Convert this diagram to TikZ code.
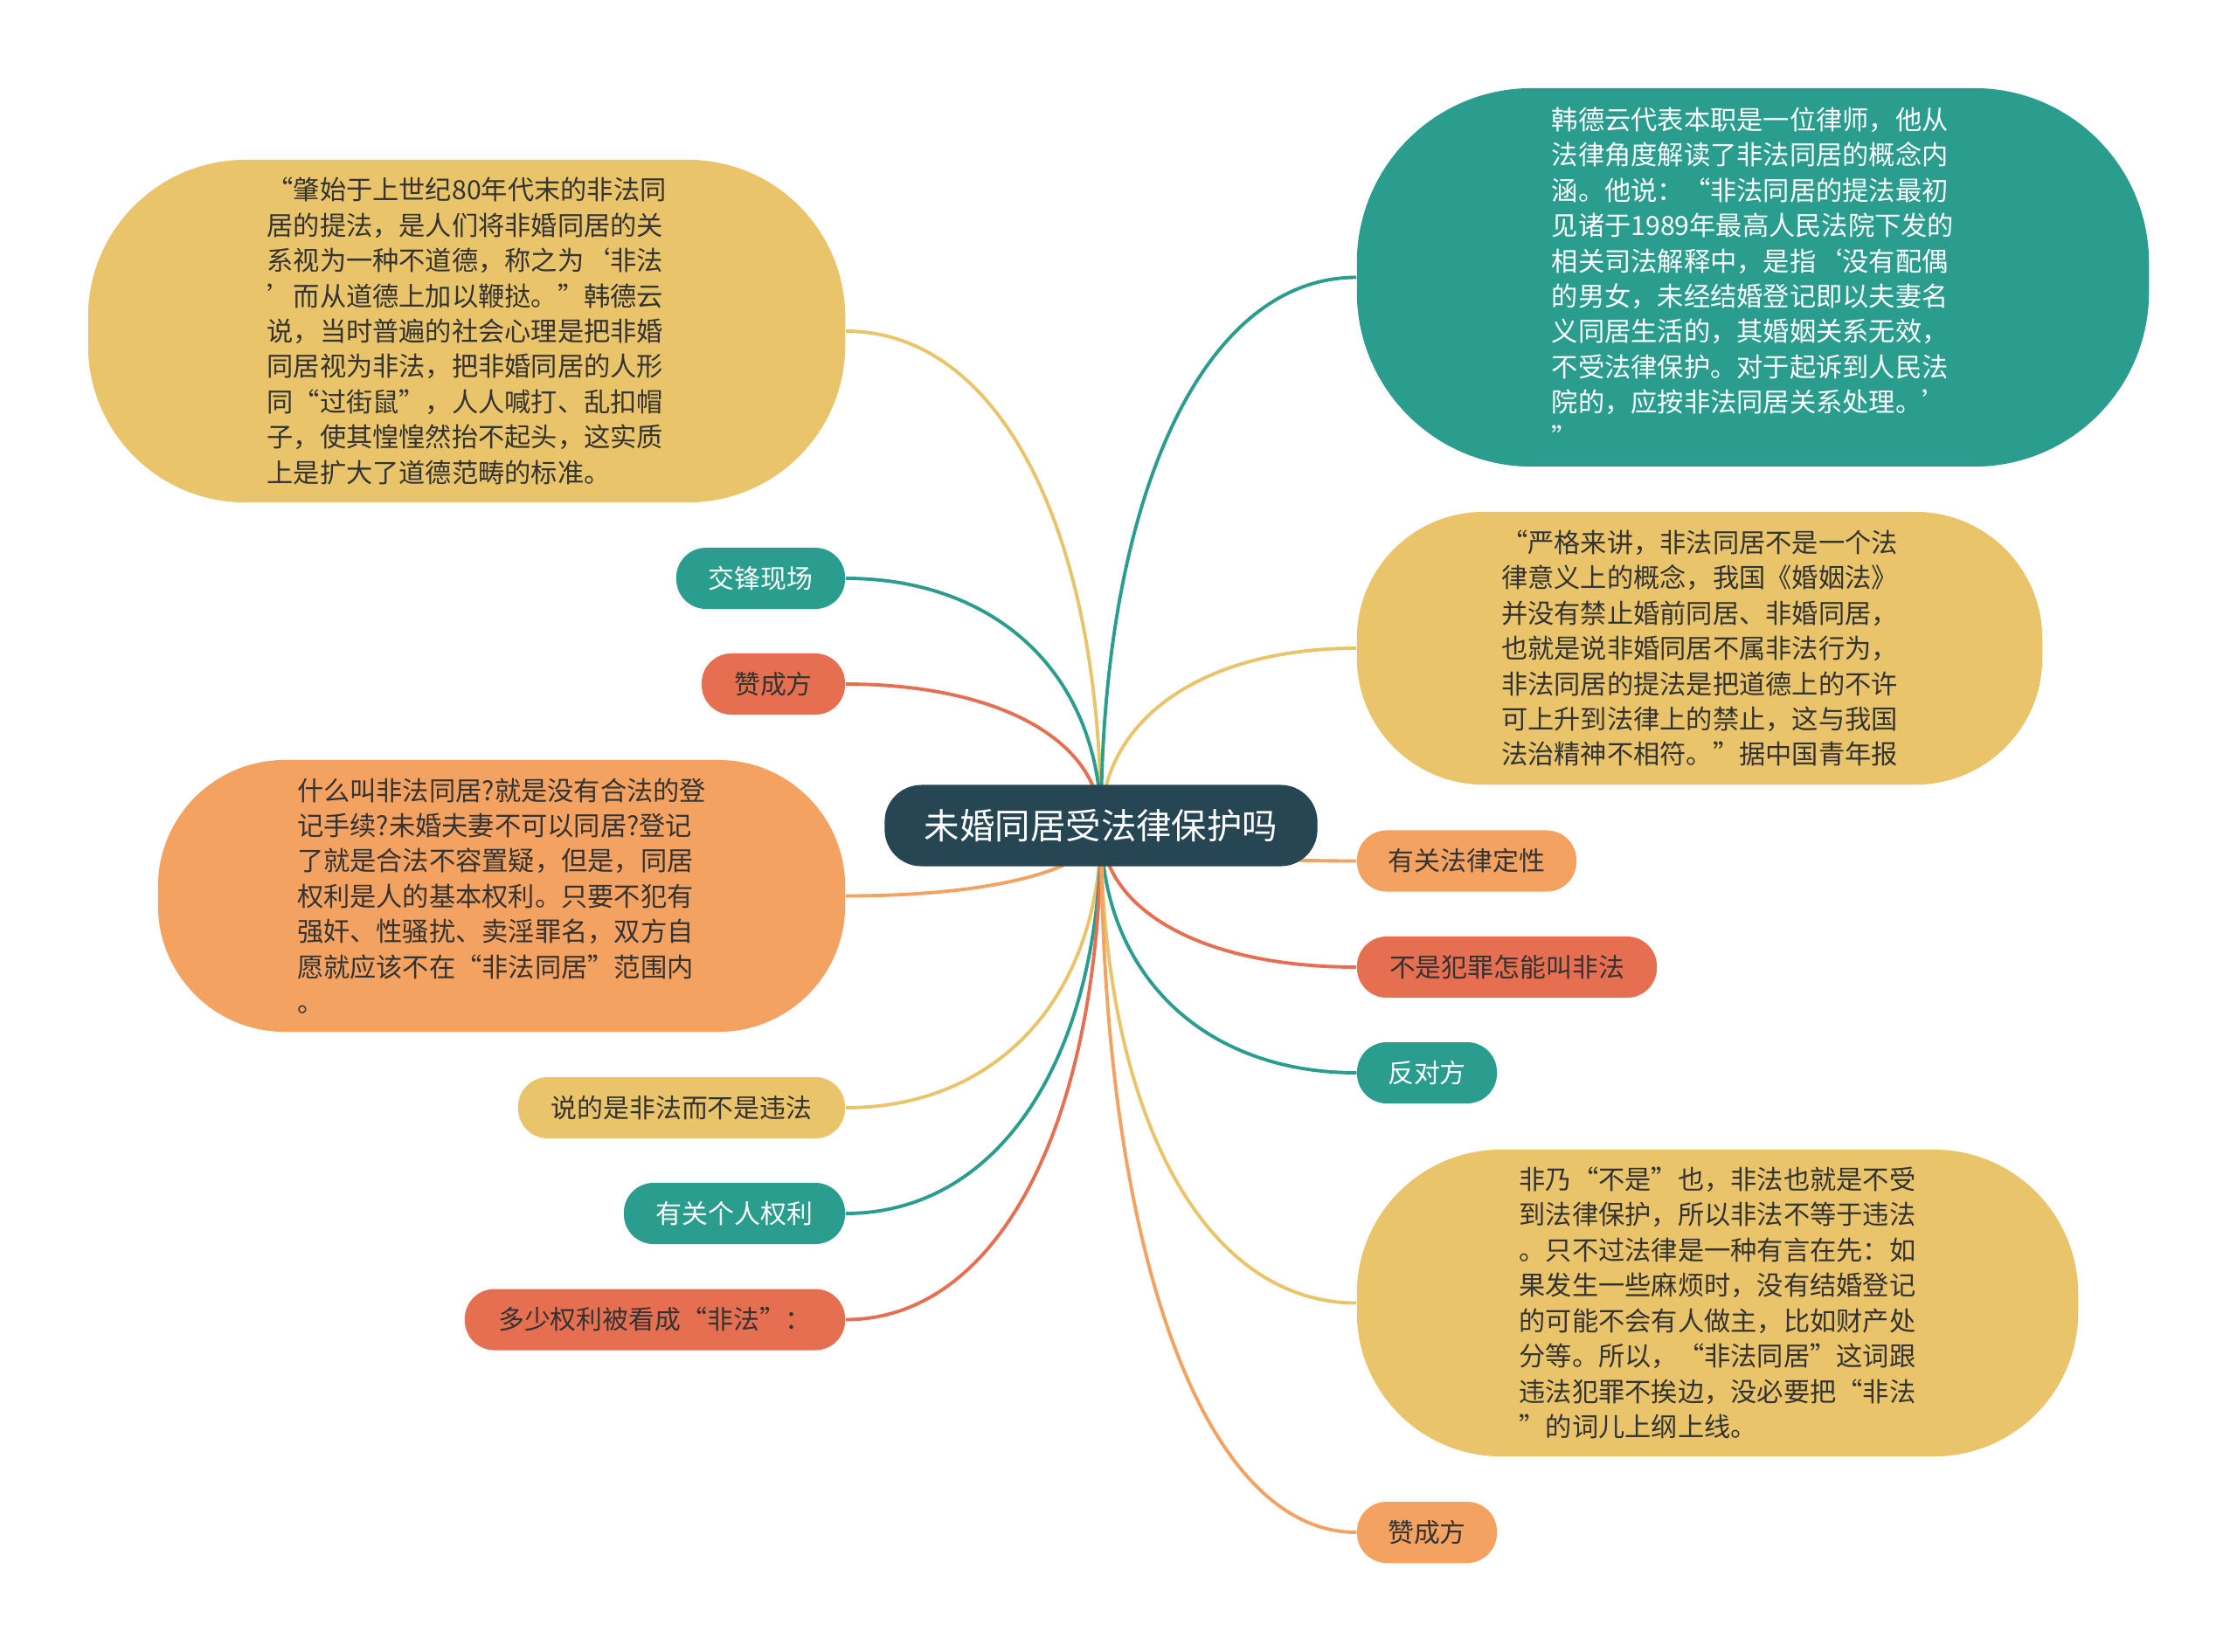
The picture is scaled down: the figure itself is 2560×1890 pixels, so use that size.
\documentclass[tikz,border=0pt]{standalone}
\usepackage{fontspec}
\setmainfont{Noto Sans CJK SC}
\usetikzlibrary{calc}
\definecolor{cRoot}{HTML}{264653}
\definecolor{cTeal}{HTML}{2A9D8F}
\definecolor{cYel}{HTML}{E9C46A}
\definecolor{cOra}{HTML}{F4A261}
\definecolor{cRed}{HTML}{E76F51}
\definecolor{cTxt}{HTML}{333333}
\pgfdeclarelayer{back}
\pgfdeclarelayer{lines}
\pgfsetlayers{back,lines,main}
\newcommand\mmconn[2]{\draw[link,#1] (root.center) .. controls ($(root.center)!0.6!(root.center|-#2)$) and ($(#2)!0.6!(root.center|-#2)$) .. (#2);}
\begin{document}
\begin{tikzpicture}[x=0.01cm,y=-0.01cm,
  big/.style={inner sep=0pt, align=left, font=\fontsize{8.6pt}{11.5pt}\selectfont, text=cTxt},
  pill/.style={inner sep=0pt, minimum height=0.7cm, rounded corners=0.34cm, font=\fontsize{8.5pt}{10pt}\selectfont, text=cTxt},
  link/.style={line width=1.1pt}
]
\begin{pgfonlayer}{back}
\fill[white] (0,0) rectangle (2560,1890);
\end{pgfonlayer}
\useasboundingbox (0,0) rectangle (2560,1890);

% root
\node[fill=cRoot, text=white, rounded corners=0.42cm, minimum width=4.95cm, minimum height=0.93cm, inner sep=0pt,
  font=\fontsize{11.5pt}{13pt}\selectfont] (root) at (1260,945) {未婚同居受法律保护吗};

% left side
\node[big, fill=cYel, minimum width=8.66cm, minimum height=3.92cm, rounded corners=1.8cm] (tl) at (534,379) {“肇始于上世纪80年代末的非法同\\居的提法，是人们将非婚同居的关\\系视为一种不道德，称之为‘非法\\’而从道德上加以鞭挞。”韩德云\\说，当时普遍的社会心理是把非婚\\同居视为非法，把非婚同居的人形\\同“过街鼠”，人人喊打、乱扣帽\\子，使其惶惶然抬不起头，这实质\\上是扩大了道德范畴的标准。};
\node[pill, fill=cTeal, text=white, minimum width=1.93cm] (jf) at (870.5,662) {交锋现场};
\node[pill, fill=cRed, minimum width=1.64cm] (zc1) at (885,783) {赞成方};
\node[big, fill=cOra, minimum width=7.86cm, minimum height=3.11cm, rounded corners=1.45cm] (ol) at (574,1025.5) {什么叫非法同居?就是没有合法的登\\记手续?未婚夫妻不可以同居?登记\\了就是合法不容置疑，但是，同居\\权利是人的基本权利。只要不犯有\\强奸、性骚扰、卖淫罪名，双方自\\愿就应该不在“非法同居”范围内\\。};
\node[pill, fill=cYel, minimum width=3.74cm] (sd) at (780,1268) {说的是非法而不是违法};
\node[pill, fill=cTeal, text=white, minimum width=2.53cm] (gr) at (840.5,1389) {有关个人权利};
\node[pill, fill=cRed, minimum width=4.35cm] (ds) at (749.5,1510.5) {多少权利被看成“非法”：};

% right side
\node[big, fill=cTeal, text=white, minimum width=9.06cm, minimum height=4.33cm, rounded corners=2.0cm] (tr) at (2006,317.5) {韩德云代表本职是一位律师，他从\\法律角度解读了非法同居的概念内\\涵。他说：“非法同居的提法最初\\见诸于1989年最高人民法院下发的\\相关司法解释中，是指‘没有配偶\\的男女，未经结婚登记即以夫妻名\\义同居生活的，其婚姻关系无效，\\不受法律保护。对于起诉到人民法\\院的，应按非法同居关系处理。’\\”};
\node[big, fill=cYel, minimum width=7.84cm, minimum height=3.12cm, rounded corners=1.45cm] (yr) at (1945,742) {“严格来讲，非法同居不是一个法\\律意义上的概念，我国《婚姻法》\\并没有禁止婚前同居、非婚同居，\\也就是说非婚同居不属非法行为，\\非法同居的提法是把道德上的不许\\可上升到法律上的禁止，这与我国\\法治精神不相符。”据中国青年报};
\node[pill, fill=cOra, minimum width=2.51cm] (fl) at (1678.5,985.5) {有关法律定性};
\node[pill, fill=cRed, minimum width=3.43cm] (bs) at (1724.5,1107) {不是犯罪怎能叫非法};
\node[pill, fill=cTeal, text=white, minimum width=1.60cm] (fd) at (1633,1228) {反对方};
\node[big, fill=cYel, minimum width=8.25cm, minimum height=3.51cm, rounded corners=1.65cm] (yb) at (1965.5,1491.5) {非乃“不是”也，非法也就是不受\\到法律保护，所以非法不等于违法\\。只不过法律是一种有言在先：如\\果发生一些麻烦时，没有结婚登记\\的可能不会有人做主，比如财产处\\分等。所以，“非法同居”这词跟\\违法犯罪不挨边，没必要把“非法\\”的词儿上纲上线。};
\node[pill, fill=cOra, minimum width=1.60cm] (zc2) at (1633,1754) {赞成方};

\begin{pgfonlayer}{lines}
\mmconn{cYel}{tl.east}
\mmconn{cTeal}{jf.east}
\mmconn{cRed}{zc1.east}
\mmconn{cOra}{ol.east}
\mmconn{cYel}{sd.east}
\mmconn{cTeal}{gr.east}
\mmconn{cRed}{ds.east}
\mmconn{cTeal}{tr.west}
\mmconn{cYel}{yr.west}
\mmconn{cOra}{fl.west}
\mmconn{cRed}{bs.west}
\mmconn{cTeal}{fd.west}
\mmconn{cYel}{yb.west}
\mmconn{cOra}{zc2.west}
\end{pgfonlayer}
\end{tikzpicture}
\end{document}
